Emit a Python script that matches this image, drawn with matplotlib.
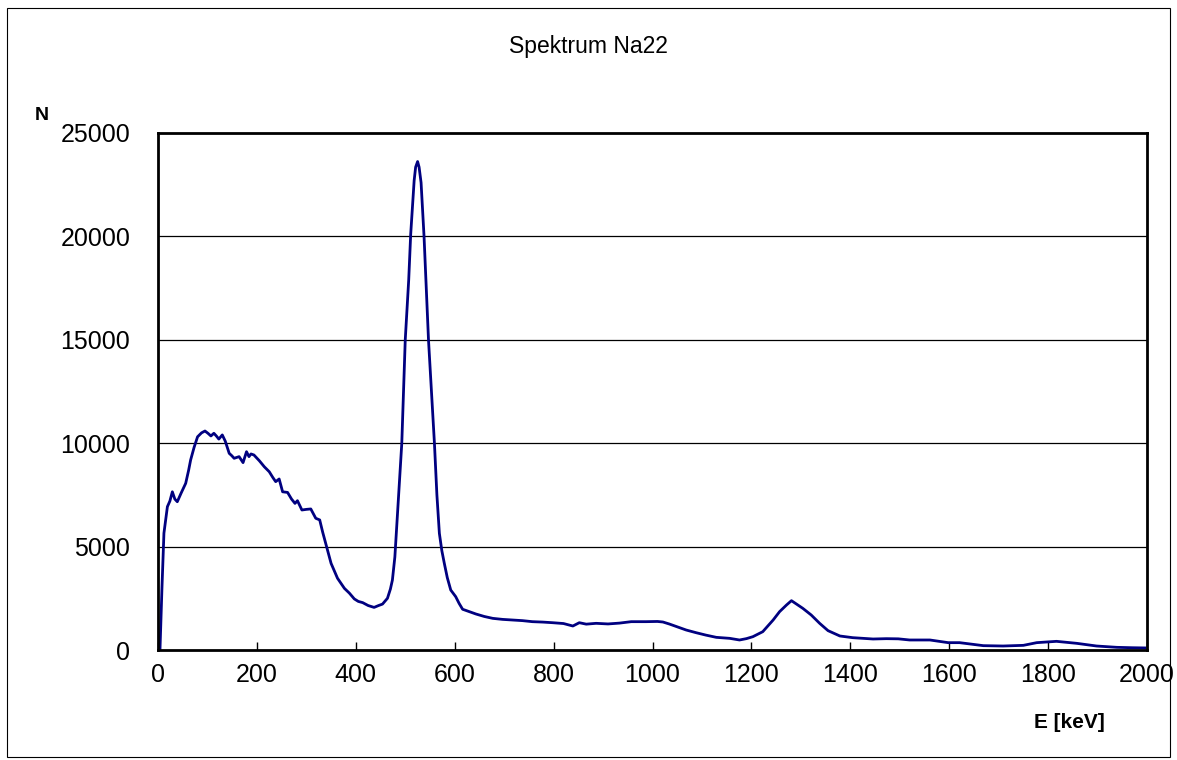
import matplotlib
matplotlib.use("Agg")
import matplotlib.pyplot as plt
from matplotlib.patches import Rectangle

plt.rcParams['font.family'] = ['Liberation Sans', 'DejaVu Sans']

energy_keV = [4, 8, 12, 19, 24, 29, 34, 39, 47, 56, 62, 66, 73, 80, 88, 95, 101, 107, 113, 118,
              123, 130, 136, 144, 149, 154, 164, 172, 179, 184, 188, 194, 205, 215, 225, 232, 238,
              245, 252, 262, 270, 277, 282, 291, 300, 309, 319, 327, 333, 339, 350, 363, 377, 387,
              397, 405, 414, 425, 437, 446, 454, 464, 470, 474, 479, 484, 488, 493, 500, 507, 511,
              518, 521, 525, 528, 532, 538, 547, 553, 559, 564, 569, 574, 579, 585, 592, 602, 609,
              616, 630, 643, 660, 677, 697, 717, 737, 757, 778, 798, 820, 839, 852, 866, 886, 910,
              933, 957, 987, 1010, 1021, 1034, 1050, 1068, 1088, 1108, 1129, 1156, 1176, 1190,
              1203, 1223, 1244, 1257, 1271, 1281, 1291, 1304, 1321, 1338, 1355, 1379, 1405, 1446,
              1473, 1497, 1520, 1561, 1598, 1621, 1645, 1669, 1709, 1750, 1777, 1817, 1858, 1898,
              1939, 1970, 1996]
counts_N = [0, 3000, 5650, 6930, 7200, 7650, 7300, 7170, 7600, 8060, 8700, 9190, 9800, 10310,
            10500, 10590, 10480, 10350, 10480, 10350, 10200, 10400, 10100, 9510, 9400, 9270, 9350,
            9060, 9590, 9350, 9480, 9430, 9150, 8860, 8620, 8350, 8140, 8270, 7650, 7620, 7300,
            7090, 7220, 6770, 6800, 6820, 6370, 6290, 5700, 5160, 4190, 3470, 2980, 2750, 2470,
            2350, 2290, 2150, 2060, 2150, 2220, 2500, 2950, 3380, 4500, 6450, 8000, 10000, 15000,
            17900, 20100, 22700, 23350, 23620, 23350, 22600, 20000, 15000, 12500, 10000, 7500,
            5640, 4800, 4190, 3500, 2900, 2580, 2250, 1970, 1850, 1740, 1620, 1530, 1480, 1450,
            1420, 1370, 1350, 1320, 1280, 1160, 1320, 1250, 1290, 1260, 1300, 1370, 1370, 1380,
            1354, 1257, 1120, 967, 838, 720, 612, 564, 484, 550, 644, 886, 1451, 1854, 2176, 2385,
            2224, 2014, 1692, 1290, 935, 677, 596, 532, 548, 540, 484, 484, 355, 355, 280, 210,
            193, 225, 355, 419, 322, 193, 129, 110, 100]

x_ticks = [0, 200, 400, 600, 800, 1000, 1200, 1400, 1600, 1800, 2000]
y_ticks = [0, 5000, 10000, 15000, 20000, 25000]

W, H = 1177, 760
fig = plt.figure(figsize=(W / 100, H / 100), dpi=100)
fig.patches.append(Rectangle((7 / W, 3 / H), 1163 / W, 749 / H, transform=fig.transFigure,
                             fill=False, edgecolor='black', linewidth=0.8))

ax = fig.add_axes([158 / W, 1 - 650 / H, (1147 - 158) / W, (650 - 133) / H])
ax.plot(energy_keV, counts_N, color='#000080', linewidth=2.0, solid_joinstyle='round')
ax.set_xlim(0, 2000)
ax.set_ylim(0, 25000)
ax.set_xticks(x_ticks)
ax.set_yticks(y_ticks)
ax.set_yticklabels([str(v) for v in y_ticks])
ax.set_xticklabels([str(v) for v in x_ticks])
for y in y_ticks[1:-1]:
    ax.axhline(y, color='black', linewidth=0.9, zorder=0)
for s in ax.spines.values():
    s.set_linewidth(2)
    s.set_color('black')
ax.tick_params(axis='x', direction='in', length=6, width=1, pad=9, labelsize=18)
ax.tick_params(axis='y', length=0, pad=20, labelsize=18)

fig.text(588 / W, 1 - 47 / H, 'Spektrum Na22', ha='center', va='center', fontsize=16.5)
fig.text(42 / W, 1 - 115 / H, 'N', ha='center', va='center', fontsize=14, fontweight='bold')
fig.text(1069 / W, 1 - 722 / H, 'E [keV]', ha='center', va='center', fontsize=15,
         fontweight='bold')

fig.savefig('out.png', dpi=100)
